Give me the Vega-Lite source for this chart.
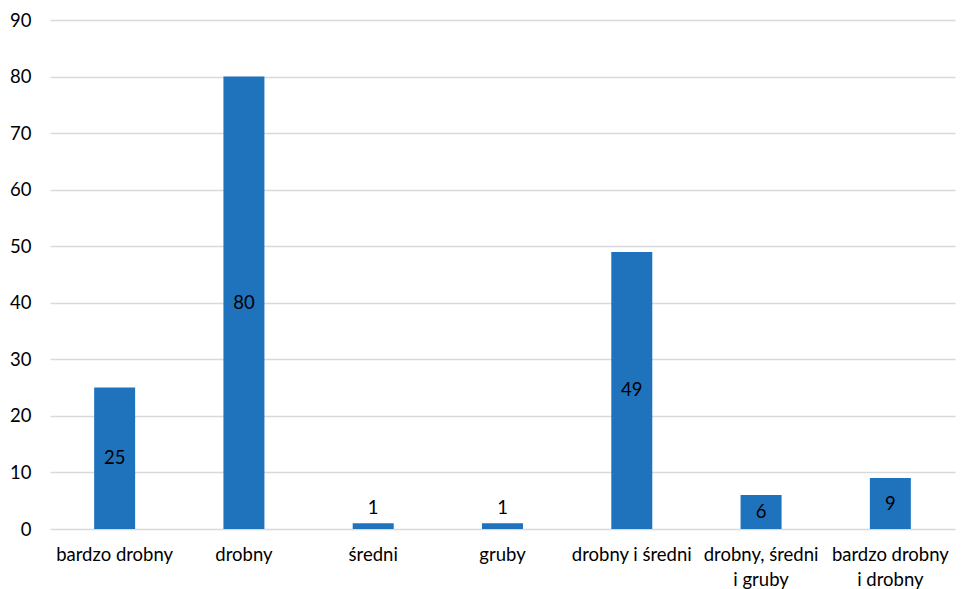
{
  "$schema": "https://vega.github.io/schema/vega-lite/v6.json",
  "width": 905,
  "height": 509,
  "autosize": {"type": "none"},
  "padding": {"left": 50, "top": 20, "right": 6, "bottom": 60},
  "background": "white",
  "config": {
    "view": {"stroke": null},
    "font": "Lato",
    "axis": {"labelFont": "Lato", "labelFontSize": 18.5, "labelColor": "#000000"}
  },
  "data": {
    "values": [
      {"kategoria": "bardzo drobny", "liczba": 25},
      {"kategoria": "drobny", "liczba": 80},
      {"kategoria": "średni", "liczba": 1},
      {"kategoria": "gruby", "liczba": 1},
      {"kategoria": "drobny i średni", "liczba": 49},
      {"kategoria": "drobny, średni|i gruby", "liczba": 6},
      {"kategoria": "bardzo drobny|i drobny", "liczba": 9}
    ]
  },
  "encoding": {
    "x": {
      "field": "kategoria",
      "type": "nominal",
      "sort": null,
      "scale": {"paddingInner": 0.683, "paddingOuter": 0.3415},
      "axis": {
        "title": null,
        "labelAngle": 0,
        "ticks": false,
        "domain": false,
        "labelPadding": 16,
        "labelLineHeight": 25,
        "labelExpr": "split(datum.value, '|')"
      }
    }
  },
  "layer": [
    {
      "mark": {"type": "bar", "color": "#1f73bd"},
      "encoding": {
        "y": {
          "field": "liczba",
          "type": "quantitative",
          "scale": {"domain": [0, 90], "nice": false},
          "axis": {
            "title": null,
            "values": [0, 10, 20, 30, 40, 50, 60, 70, 80, 90],
            "ticks": false,
            "domain": false,
            "labelPadding": 19,
            "gridColor": "#d9d9d9",
            "gridWidth": 1.3
          }
        }
      }
    },
    {
      "transform": [
        {"filter": "datum.liczba > 2"},
        {"calculate": "datum.liczba / 2", "as": "srodek"}
      ],
      "mark": {"type": "text", "fontSize": 18.5, "color": "#000000", "baseline": "middle", "font": "Lato"},
      "encoding": {
        "y": {"field": "srodek", "type": "quantitative"},
        "text": {"field": "liczba", "type": "quantitative"}
      }
    },
    {
      "transform": [{"filter": "datum.liczba <= 2"}],
      "mark": {"type": "text", "fontSize": 18.5, "color": "#000000", "baseline": "bottom", "dy": -5, "font": "Lato"},
      "encoding": {
        "y": {"field": "liczba", "type": "quantitative"},
        "text": {"field": "liczba", "type": "quantitative"}
      }
    }
  ]
}
